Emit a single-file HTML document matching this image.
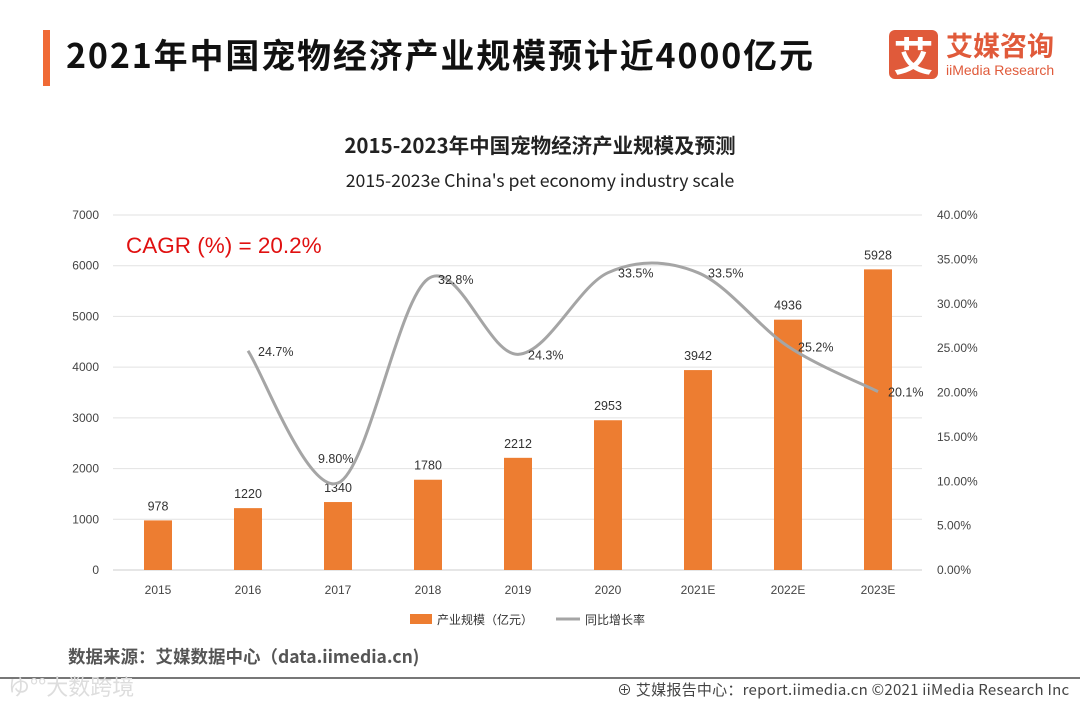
<!DOCTYPE html>
<html><head><meta charset="utf-8">
<style>
body{margin:0;width:1080px;height:702px;background:#fff;overflow:hidden;font-family:"Liberation Sans","Noto Sans CJK SC",sans-serif;position:relative}
.a{position:absolute;white-space:nowrap}
</style></head><body>
<div class="a" style="left:43px;top:30px;width:7px;height:56px;background:#f06a35"></div>
<div class="a" style="left:66px;top:29px;font-size:34px;letter-spacing:1.85px;font-weight:bold;color:#111;font-family:'Noto Sans CJK SC',sans-serif;line-height:50px">2021年中国宠物经济产业规模预计近4000亿元</div>
<div class="a" style="left:889px;top:30px;width:49px;height:49px;background:#e05a3a;border-radius:6px;color:#fff;font-size:40px;font-weight:bold;text-align:center;line-height:49px;font-family:'Noto Sans CJK SC',sans-serif">艾</div>
<div class="a" style="left:946px;top:28px;font-size:27px;font-weight:bold;color:#e05a3a;font-family:'Noto Sans CJK SC',sans-serif;line-height:34px">艾媒咨询</div>
<div class="a" style="left:946px;top:62px;font-size:14px;color:#e05a3a;line-height:16px">iiMedia Research</div>
<svg class="a" style="left:0;top:0" width="1080" height="702" id="chart"></svg>
<div class="a" style="left:68px;top:644px;font-size:17.5px;font-weight:bold;color:#555;font-family:'Noto Sans CJK SC',sans-serif">数据来源：艾媒数据中心（data.iimedia.cn)</div>
<div class="a" style="left:0;top:677px;width:1080px;height:2px;background:#777"></div>
<div class="a" style="left:8px;top:670px;font-size:22px;color:#ddd;font-family:'Noto Sans CJK SC',sans-serif">ゆ°°大数跨境</div>
<div class="a" style="left:617px;top:679px;font-size:15px;letter-spacing:0.25px;color:#444;font-family:'Noto Sans CJK SC',sans-serif">⊕ 艾媒报告中心：report.iimedia.cn  ©2021  iiMedia Research  Inc</div>
<script>
const categories=["2015","2016","2017","2018","2019","2020","2021E","2022E","2023E"];
const scaleValues=[978,1220,1340,1780,2212,2953,3942,4936,5928];
const growthValues=[null,24.7,9.8,32.8,24.3,33.5,33.5,25.2,20.1];
const growthLabels=["","24.7%","9.80%","32.8%","24.3%","33.5%","33.5%","25.2%","20.1%"];
const leftTicks=[0,1000,2000,3000,4000,5000,6000,7000];
const rightTicks=[0,5,10,15,20,25,30,35,40];
const svg=document.getElementById('chart');const NS='http://www.w3.org/2000/svg';
function el(t,a,txt){const e=document.createElementNS(NS,t);for(const k in a)e.setAttribute(k,a[k]);if(txt!=null)e.textContent=txt;svg.appendChild(e);return e;}
const y0=570,yTop=215;
const yL=v=>y0-(v/7000)*(y0-yTop);
const yR=v=>y0-(v/40)*(y0-yTop);
const xC=i=>158+i*90;
let t=el('text',{x:540,y:153,'text-anchor':'middle','font-size':20.5,'font-weight':'bold',fill:'#222','font-family':'Noto Sans CJK SC,sans-serif'},'2015-2023年中国宠物经济产业规模及预测');

t=el('text',{x:540,y:187,'text-anchor':'middle','font-size':17.7,fill:'#222','font-family':'Noto Sans CJK SC,sans-serif'},"2015-2023e China's pet economy industry scale");

leftTicks.forEach(v=>{const y=yL(v);
 const g=el('line',{x1:113,x2:922,y1:y,y2:y,stroke:v===0?'#ccc':'#e2e2e2','stroke-width':1});
 
 const l=el('text',{x:99,y:y+4,'text-anchor':'end','font-size':12,fill:'#444'},v);
 });
rightTicks.forEach(v=>{const l=el('text',{x:937,y:yR(v)+4,'font-size':12,fill:'#444'},v.toFixed(2)+'%');
 });
categories.forEach((c,i)=>{const l=el('text',{x:xC(i),y:594,'text-anchor':'middle','font-size':12,fill:'#444'},c);
 
 const b=el('rect',{x:xC(i)-14,y:yL(scaleValues[i]),width:28,height:y0-yL(scaleValues[i]),fill:'#ed7d31'});
 
 const v=el('text',{x:xC(i),y:yL(scaleValues[i])-10,'text-anchor':'middle','font-size':12.5,fill:'#333'},scaleValues[i]);
 });
const pts=[];growthValues.forEach((v,i)=>{if(v!=null)pts.push([xC(i),yR(v)]);});
let d='M'+pts[0][0]+','+pts[0][1];
for(let i=0;i<pts.length-1;i++){const p0=pts[i-1]||pts[i],p1=pts[i],p2=pts[i+1],p3=pts[i+2]||p2;
 d+=` C${p1[0]+(p2[0]-p0[0])/6},${p1[1]+(p2[1]-p0[1])/6} ${p2[0]-(p3[0]-p1[0])/6},${p2[1]-(p3[1]-p1[1])/6} ${p2[0]},${p2[1]}`;}
const ln=el('path',{d:d,fill:'none',stroke:'#a5a5a5','stroke-width':3});

growthValues.forEach((v,i)=>{if(v==null)return;const up=(i===2);
 const l=el('text',{x:up?xC(i)-20:xC(i)+10,y:up?yR(v)-20:yR(v)+5,'font-size':12.5,fill:'#333'},growthLabels[i]);
 });
t=el('text',{x:126,y:253,'font-size':22.5,fill:'#e01010'},'CAGR (%) = 20.2%');

let r=el('rect',{x:410,y:614,width:22,height:10,fill:'#ed7d31'});
t=el('text',{x:437,y:624,'font-size':12,fill:'#333','font-family':'Noto Sans CJK SC,sans-serif'},'产业规模（亿元）');
r=el('line',{x1:556,x2:580,y1:619,y2:619,stroke:'#a5a5a5','stroke-width':3});
t=el('text',{x:585,y:624,'font-size':12,fill:'#333','font-family':'Noto Sans CJK SC,sans-serif'},'同比增长率');
</script>
</body></html>
